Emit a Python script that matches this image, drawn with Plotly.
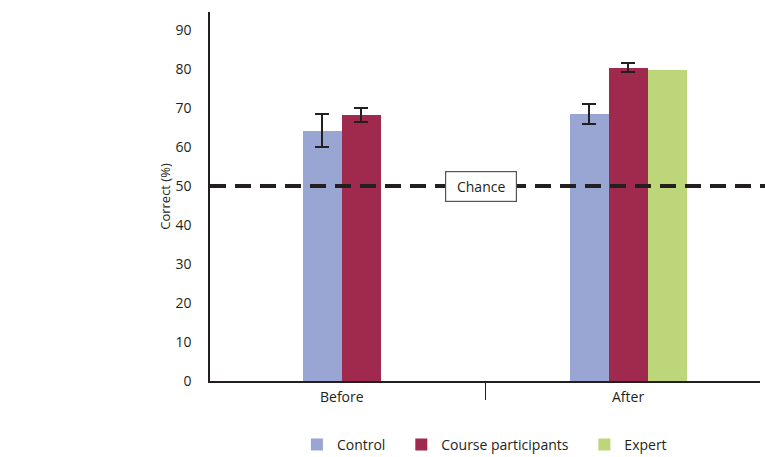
import plotly.graph_objects as go

categories = ["Before", "After"]
series_names = ["Control", "Course participants", "Expert"]
series_values = {
    "Control": [64.2, 68.5],
    "Course participants": [68.2, 80.3],
    "Expert": [None, 79.7],
}
series_errors = {
    "Control": [4.2, 2.6],
    "Course participants": [1.7, 1.2],
    "Expert": [None, None],
}
colors = {
    "Control": "#99A5D2",
    "Course participants": "#A0294E",
    "Expert": "#BDD67A",
}
chance_level = 50
chance_label = "Chance"
y_label = "Correct (%)"
y_ticks = [0, 10, 20, 30, 40, 50, 60, 70, 80, 90]

BAR_W = 0.136
font_family = "Open Sans, Lato, sans-serif"
NB = "\u00a0"

fig = go.Figure()

for s in series_names:
    xs, ys, es = [], [], []
    for ci, cat in enumerate(categories):
        present = [n for n in series_names if series_values[n][ci] is not None]
        if series_values[s][ci] is None:
            continue
        idx = present.index(s)
        off = (idx - (len(present) - 1) / 2) * BAR_W
        xs.append(ci + off)
        ys.append(series_values[s][ci])
        es.append(series_errors[s][ci] if series_errors[s][ci] is not None else 0)
    show_err = any(e for e in es)
    fig.add_trace(go.Bar(
        x=xs, y=ys, width=BAR_W, name=s + NB * 3,
        marker=dict(color=colors[s], line=dict(width=0)),
        error_y=dict(type="data", array=es, visible=show_err,
                     color="#231F20", thickness=2, width=7),
    ))

fig.add_shape(type="line", xref="paper", yref="y", x0=0, x1=1.01,
              y0=chance_level, y1=chance_level,
              line=dict(color="#231F20", width=4, dash="16px,9px"))

fig.add_annotation(x=0.485, y=chance_level, xref="x", yref="y", yshift=-1,
                   text=chance_label, showarrow=False,
                   font=dict(family=font_family, size=14, color="#231F20"),
                   bgcolor="white", bordercolor="#555555", borderwidth=1.2,
                   borderpad=5, width=60)

for ci, cat in enumerate(categories):
    fig.add_annotation(x=ci, y=0, xref="x", yref="y", yshift=-15,
                       text=cat, showarrow=False,
                       font=dict(family=font_family, size=14, color="#231F20"))

fig.update_layout(
    width=765, height=457,
    margin=dict(l=210, r=5, t=12, b=76, autoexpand=False),
    plot_bgcolor="white", paper_bgcolor="white",
    barmode="overlay",
    bargap=0,
    font=dict(family=font_family, size=13, color="#231F20"),
    showlegend=True,
    legend=dict(orientation="h", x=0.158, y=-0.173, xanchor="left",
                yanchor="middle", font=dict(size=14),
                tracegroupgap=0),
    xaxis=dict(range=[-0.46, 1.46], tickvals=[0.5], ticktext=[""],
               ticks="outside", ticklen=17, tickwidth=1, tickcolor="#231F20",
               showline=True, linecolor="#231F20", linewidth=1.5,
               showgrid=False, zeroline=False, automargin=False),
    yaxis=dict(range=[0, 94.6], tickvals=y_ticks, automargin=False,
               showline=True, linecolor="#231F20", linewidth=1.5,
               showgrid=False, zeroline=False, ticks="", ticklabelstandoff=14,
               tickfont=dict(size=14),
               title=dict(text=y_label, font=dict(size=13), standoff=2)),
)

fig.write_html("out.html", config={"displayModeBar": False},
               post_script="document.body.style.margin='0';document.body.style.padding='0';")
